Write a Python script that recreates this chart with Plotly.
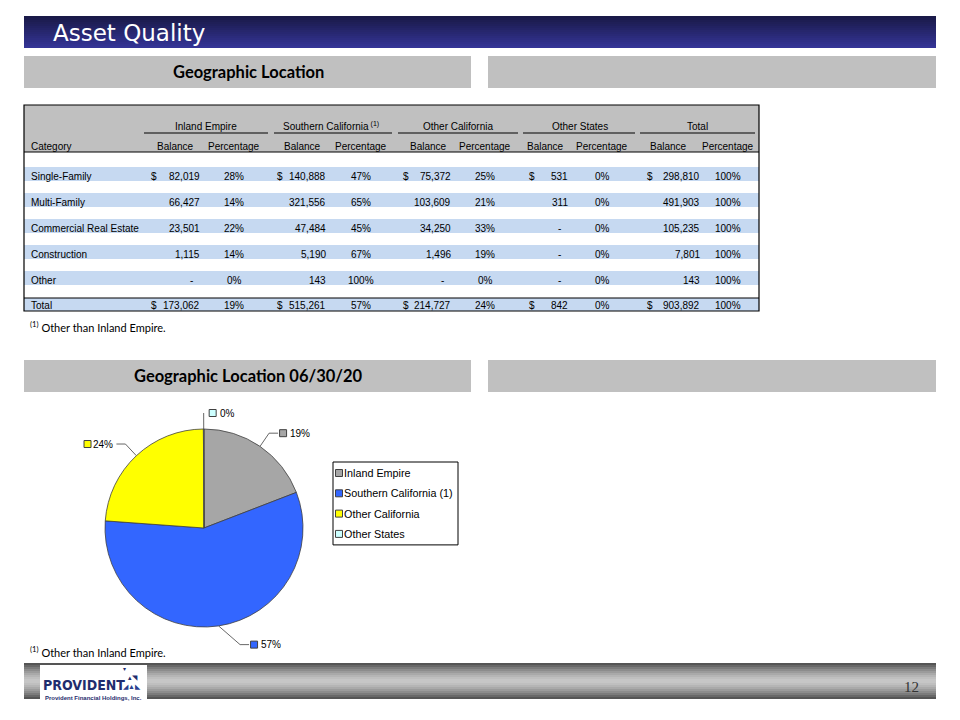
import numpy as np
import plotly.graph_objects as go

# ---- data ----
categories = ['Single-Family', 'Multi-Family', 'Commercial Real Estate',
              'Construction', 'Other', 'Total']
regions = ['Inland Empire', 'Southern California', 'Other California',
           'Other States', 'Total']
ie_bal = [82019, 66427, 23501, 1115, 0, 173062]
ie_pct = [28, 14, 22, 14, 0, 19]
sc_bal = [140888, 321556, 47484, 5190, 143, 515261]
sc_pct = [47, 65, 45, 67, 100, 57]
oc_bal = [75372, 103609, 34250, 1496, 0, 214727]
oc_pct = [25, 21, 33, 19, 0, 24]
os_bal = [531, 311, 0, 0, 0, 842]
os_pct = [0, 0, 0, 0, 0, 0]
tot_bal = [298810, 491903, 105235, 7801, 143, 903892]
tot_pct = [100, 100, 100, 100, 100, 100]

pie_labels = ['Inland Empire', 'Southern California (1)', 'Other California', 'Other States']
pie_values = [ie_bal[-1], sc_bal[-1], oc_bal[-1], os_bal[-1]]
pie_colors = ['#a6a6a6', '#3366ff', '#ffff00', '#ccffff']

TABLE_FONT = 'Liberation Sans'
HEAD_FONT = 'Lato'

shapes = []
annotations = []


def rect(x0, y0, x1, y1, fill, line=None, width=0):
    shapes.append(dict(type='rect', xref='x', yref='y', x0=x0, y0=y0, x1=x1, y1=y1,
                       fillcolor=fill, line=dict(color=line or fill, width=width),
                       layer='below'))


def hline(x0, x1, y, color='black', width=1):
    shapes.append(dict(type='line', xref='x', yref='y', x0=x0, x1=x1, y0=y, y1=y,
                       line=dict(color=color, width=width)))


def text(x, y, s, size=10, anchor='center', color='black', family=TABLE_FONT):
    annotations.append(dict(x=x, y=y, xref='x', yref='y', text=s, showarrow=False,
                            xanchor=anchor, yanchor='middle', borderpad=0,
                            font=dict(family=family, size=size, color=color)))


def mix(c0, c1, t):
    return 'rgb(%d,%d,%d)' % tuple(int(a + (b - a) * t) for a, b in zip(c0, c1))


# ---- slide chrome ----
for i in range(16):
    rect(24, 16 + 2 * i, 936, 18 + 2 * i, mix((26, 26, 72), (52, 52, 150), i / 15))
text(52, 33, 'Asset Quality', size=23, anchor='left', color='white', family='DejaVu Sans')

for y0 in (56, 360):
    rect(24, y0, 471, y0 + 32, '#c0c0c0')
    rect(488, y0, 936, y0 + 32, '#c0c0c0')
text(248, 72, '<b>Geographic Location</b>', size=16.5, family=HEAD_FONT)
text(248, 376, '<b>Geographic Location 06/30/20</b>', size=16.5, family=HEAD_FONT)

for i in range(18):
    t = abs(i - 8.5) / 8.5
    rect(24, 663 + 2 * i, 936, 665 + 2 * i, mix((200, 200, 200), (85, 85, 85), t ** 1.5))
rect(40, 665, 147, 703, 'white')
text(42, 685, '<b>PROVIDENT</b>', size=14, anchor='left', color='#1f2d6e',
     family='Liberation Sans Narrow, DejaVu Sans Condensed, Liberation Sans')
text(122, 686, '◢▲◣', size=7, anchor='left', color='#2a3f8f')
text(127, 677, '▴◥', size=7, anchor='left', color='#1f2d6e')
text(122, 669, '▾', size=6, anchor='left', color='#1f2d6e')
text(93, 698, '<b>Provident Financial Holdings, Inc.</b>', size=6, color='#1f2d6e')
text(911, 687, '12', size=15, color='#333333', family='Liberation Serif')

# ---- table ----
rect(24, 105, 759, 152, '#c0c0c0')
row_y = [176, 202, 228, 254, 280, 305]
for y in row_y[:-1]:
    rect(24, y - 9, 759, y + 5, '#c6d9f1')
rect(24, 298, 759, 311, '#c6d9f1')
shapes.append(dict(type='rect', xref='x', yref='y', x0=24, y0=105, x1=759, y1=311,
                   line=dict(color='black', width=1.2)))
hline(24, 759, 152)
hline(24, 759, 298)

group_cx = [206, 331, 458, 580, 697]
group_line = [(144, 268), (274, 392), (398, 518), (523, 635), (640, 755)]
bal_cx = [175, 302, 428, 545, 668]
pct_cx = [234, 361, 485, 602, 728]
bal_right = [201, 327, 452, 569, 701]
dollar_x = [150, 276, 402, 528, 646]
bal_cols = [ie_bal, sc_bal, oc_bal, os_bal, tot_bal]
pct_cols = [ie_pct, sc_pct, oc_pct, os_pct, tot_pct]

text(30, 146, 'Category', anchor='left')
for k, name in enumerate(regions):
    label = name + ('<sup> (1)</sup>' if name == 'Southern California' else '')
    text(group_cx[k], 126, label)
    hline(group_line[k][0], group_line[k][1], 133)
    text(bal_cx[k], 146, 'Balance')
    text(pct_cx[k], 146, 'Percentage')

for r, cat in enumerate(categories):
    y = row_y[r]
    text(30, y, cat, anchor='left')
    for k in range(len(regions)):
        v = bal_cols[k][r]
        if cat in ('Single-Family', 'Total'):
            text(dollar_x[k], y, '$', anchor='left')
        if v == 0:
            text(bal_right[k] - 7, y, '-', anchor='right')
        else:
            text(bal_right[k], y, f'{v:,}', anchor='right')
        text(pct_cx[k], y, f'{pct_cols[k][r]}%')

note = '<sup>(1)</sup> Other than Inland Empire.'
text(29, 326, note, size=11, anchor='left', family=HEAD_FONT)
text(29, 651, note, size=11, anchor='left', family=HEAD_FONT)

# ---- pie ----
W, H = 960, 720
cx, cy, R = 204, 528, 99
fig = go.Figure()
fig.add_trace(go.Pie(
    labels=pie_labels, values=pie_values, sort=False, direction='clockwise',
    marker=dict(colors=pie_colors, line=dict(color='#404040', width=0.8)),
    textinfo='none', hoverinfo='label+percent', showlegend=False,
    domain=dict(x=[(cx - R) / W, (cx + R) / W], y=[1 - (cy + R) / H, 1 - (cy - R) / H]),
))

marker_style = dict(symbol='square', size=7, line=dict(color='#404040', width=1))

# outside percentage labels with leader lines
vals = np.array(pie_values, dtype=float)
frac = vals / vals.sum()
mids = np.cumsum(frac) - frac / 2
for f, col, m in zip(frac, pie_colors, mids):
    th = 2 * np.pi * m
    sx, sy = np.sin(th), -np.cos(th)
    side = 1 if sx > -0.05 else -1
    x0, y0 = cx + R * sx, cy + R * sy
    push = max(sy, 0) ** 4
    x1 = x0 + 16 * sx + side * 20 * push
    y1 = y0 + 16 * sy + 3 * push
    bend = abs(sx) > 0.1
    x2 = x1 + (9 * side if bend else 0)
    fig.add_trace(go.Scatter(x=[x0, x1, x2], y=[y0, y1, y1], mode='lines',
                             line=dict(color='#404040', width=0.8),
                             showlegend=False, hoverinfo='skip'))
    lab = f'{round(f * 100):.0f}%'
    tw = 6.3 * len(lab)
    if side > 0:
        mx = x2 + (5 if bend else 9)
        text(mx + 6, y1, lab, anchor='left')
    else:
        tx = x2 - 2
        mx = tx - tw - 8
        text(tx, y1, lab, anchor='right')
    fig.add_trace(go.Scatter(x=[mx], y=[y1], mode='markers',
                             marker=dict(color=col, **marker_style),
                             showlegend=False, hoverinfo='skip'))

# legend box
lx0, ly0, lstep = 333, 473, 20.3
shapes.append(dict(type='rect', xref='x', yref='y', x0=lx0, y0=ly0 - 11, x1=458,
                   y1=ly0 + lstep * (len(pie_labels) - 1) + 11,
                   line=dict(color='black', width=1), fillcolor='white', layer='below'))
leg_y = [ly0 + lstep * i for i in range(len(pie_labels))]
fig.add_trace(go.Scatter(x=[lx0 + 6] * len(pie_labels), y=leg_y, mode='markers',
                         marker=dict(color=pie_colors, **marker_style),
                         showlegend=False, hoverinfo='skip'))
for lab, y in zip(pie_labels, leg_y):
    text(lx0 + 10, y, lab, anchor='left', size=10.8)

fig.update_layout(
    width=W, height=H, margin=dict(l=0, r=0, t=0, b=0),
    paper_bgcolor='white', plot_bgcolor='white',
    xaxis=dict(range=[0, W], visible=False, fixedrange=True),
    yaxis=dict(range=[H, 0], visible=False, fixedrange=True),
    shapes=shapes, annotations=annotations, showlegend=False,
)

fig.write_html('out.html', config={'displayModeBar': False},
               post_script="document.body.style.margin='0';")
